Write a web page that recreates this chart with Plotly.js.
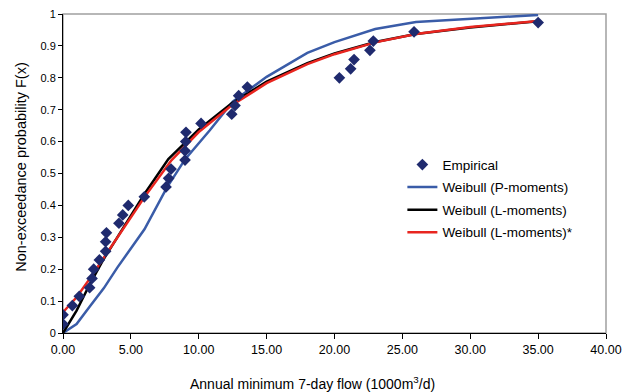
<!DOCTYPE html>
<html>
<head>
<meta charset="utf-8">
<script src="https://cdn.plot.ly/plotly-3.0.1.min.js"></script>
<style>html,body{margin:0;padding:0;background:#fff;}#chart{width:635px;height:392px;}</style>
</head>
<body>
<div id="chart"></div>
<script>
// Empirical points
var empX = [0.00, 0.00, 0.69, 1.20, 1.96, 2.14, 2.26, 2.68, 3.14, 3.14, 3.20, 4.12, 4.40, 4.81, 5.99, 7.59, 7.78, 7.96, 8.99, 8.99, 9.04, 9.06, 10.17, 12.43, 12.67, 12.94, 13.58, 20.36, 21.19, 21.44, 22.61, 22.86, 25.86, 35.00];
var empF = [0.028, 0.057, 0.086, 0.115, 0.142, 0.171, 0.200, 0.229, 0.256, 0.286, 0.314, 0.344, 0.370, 0.400, 0.427, 0.458, 0.485, 0.514, 0.542, 0.571, 0.600, 0.629, 0.657, 0.686, 0.713, 0.744, 0.771, 0.800, 0.828, 0.857, 0.886, 0.915, 0.944, 0.973];

// Weibull (P-moments)
var pX = [0, 1.0, 2.0, 3.0, 4.0, 5.0, 6.0, 7.64, 9.0, 10.8, 12.5, 15.0, 18.0, 20.0, 22.0, 23.0, 26.0, 35.0];
var pF = [0, 0.028, 0.085, 0.140, 0.205, 0.265, 0.325, 0.455, 0.545, 0.635, 0.725, 0.803, 0.878, 0.912, 0.940, 0.953, 0.975, 0.997];

// Weibull (L-moments)
var lX = [0, 1.0, 2.0, 3.0, 4.0, 5.0, 6.0, 7.76, 10.0, 12.43, 15.0, 18.0, 20.0, 23.0, 26.0, 30.0, 35.0];
var lF = [0, 0.070, 0.155, 0.232, 0.300, 0.370, 0.436, 0.545, 0.638, 0.720, 0.788, 0.846, 0.876, 0.912, 0.937, 0.958, 0.977];

// Weibull (L-moments)*
var sX = [0, 1.0, 2.0, 3.0, 4.0, 5.0, 6.0, 8.0, 10.0, 12.5, 15.0, 18.0, 20.0, 23.0, 26.0, 30.0, 35.0];
var sF = [0.065, 0.112, 0.172, 0.235, 0.296, 0.362, 0.426, 0.542, 0.630, 0.716, 0.783, 0.843, 0.874, 0.911, 0.937, 0.959, 0.978];

var xTicks = [0, 5, 10, 15, 20, 25, 30, 35, 40];
var xTickText = ["0.00", "5.00", "10.00", "15.00", "20.00", "25.00", "30.00", "35.00", "40.00"];
var yTicks = [0, 0.1, 0.2, 0.3, 0.4, 0.5, 0.6, 0.7, 0.8, 0.9, 1];
var yTickText = ["0", "0.1", "0.2", "0.3", "0.4", "0.5", "0.6", "0.7", "0.8", "0.9", "1"];

var traces = [
  {x: pX, y: pF, type: 'scatter', mode: 'lines', name: 'Weibull (P-moments)', legendgroup: 'b',
   line: {color: '#3a5ca8', width: 2.5}, legendrank: 2},
  {x: lX, y: lF, type: 'scatter', mode: 'lines', name: 'Weibull (L-moments)', legendgroup: 'c',
   line: {color: '#000000', width: 2.5}, legendrank: 3},
  {x: sX, y: sF, type: 'scatter', mode: 'lines', name: 'Weibull (L-moments)*', legendgroup: 'd',
   line: {color: '#e8251f', width: 2.5}, legendrank: 4},
  {x: empX, y: empF, type: 'scatter', mode: 'markers', name: 'Empirical', legendgroup: 'a',
   marker: {symbol: 'diamond', size: 9, color: '#1f2a6e'}, legendrank: 1}
];

var layout = {
  width: 635, height: 392,
  margin: {l: 63, r: 29, t: 14, b: 59},
  paper_bgcolor: '#ffffff', plot_bgcolor: '#ffffff',
  font: {family: 'Liberation Sans, Arial, sans-serif', size: 11, color: '#000'},
  showlegend: true,
  legend: {x: 0.625, y: 0.576, xanchor: 'left', yanchor: 'top', bgcolor: 'rgba(0,0,0,0)',
           font: {size: 13.5, color: '#000'}, traceorder: 'grouped', tracegroupgap: 2},
  xaxis: {range: [0, 40], tickvals: xTicks, ticktext: xTickText, showgrid: false, zeroline: false,
          showline: true, linecolor: '#000', linewidth: 1, ticks: 'outside', ticklen: 5, tickcolor: '#000',
          tickfont: {size: 12.5}},
  yaxis: {range: [0, 1], tickvals: yTicks, ticktext: yTickText, showgrid: false, zeroline: false,
          showline: true, linecolor: '#000', linewidth: 1, ticks: 'outside', ticklen: 4, tickcolor: '#000',
          tickfont: {size: 11}},
  annotations: [
    {text: 'Annual minimum 7-day flow (1000m<sup>3</sup>/d)', xref: 'paper', yref: 'paper',
     x: 0.459, y: -0.156, xanchor: 'center', yanchor: 'middle', showarrow: false, font: {size: 14}},
    {text: 'Non-exceedance probability F(x)', xref: 'paper', yref: 'paper', textangle: -90,
     x: -0.078, y: 0.52, xanchor: 'center', yanchor: 'middle', showarrow: false, font: {size: 14.5}}
  ],
  shapes: [{type: 'rect', xref: 'paper', yref: 'paper', x0: 0, x1: 1, y0: 0, y1: 1,
            line: {color: '#a0a0a0', width: 1.5}, layer: 'below'}]
};

Plotly.newPlot('chart', traces, layout, {staticPlot: true, displayModeBar: false});
</script>
</body>
</html>
